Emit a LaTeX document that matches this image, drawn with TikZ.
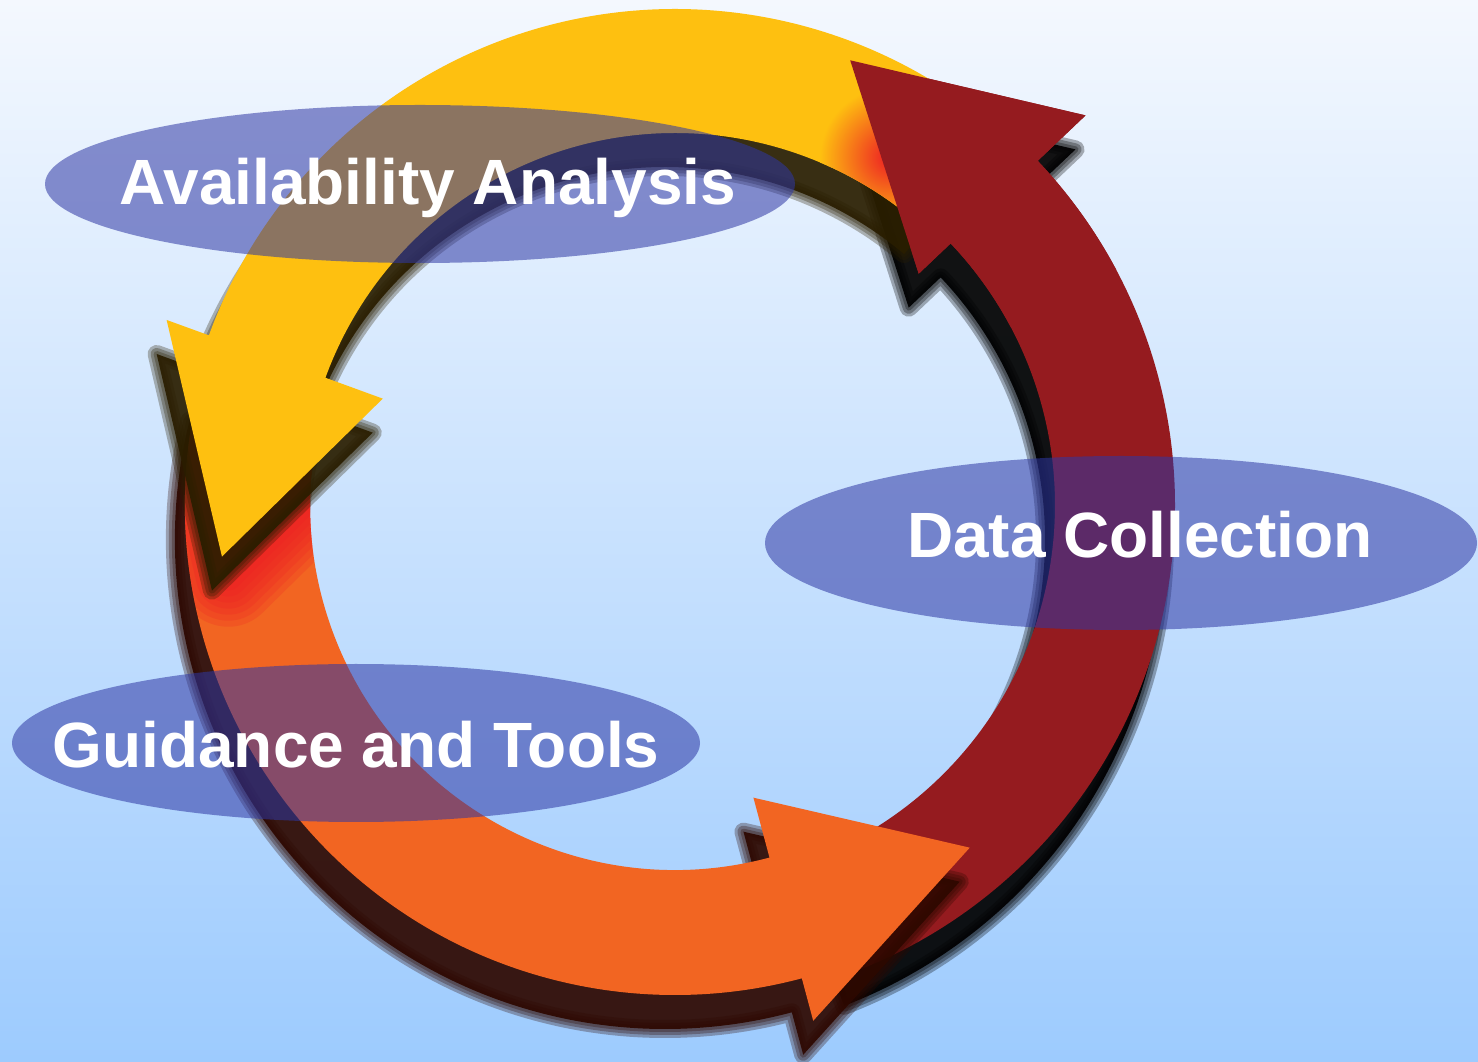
\documentclass[tikz,border=0pt]{standalone}
\usepackage{fontspec}
\setmainfont{Liberation Sans}
\usetikzlibrary{shapes.geometric}
\definecolor{bgtop}{HTML}{F4F8FE}
\definecolor{bgbot}{HTML}{9DCBFE}
\definecolor{arylw}{HTML}{FEC010}
\definecolor{arred}{HTML}{951B1F}
\definecolor{arorg}{HTML}{F26522}
\definecolor{glowred}{HTML}{ED1C24}
\definecolor{shY}{HTML}{2A1E00}
\definecolor{shO}{HTML}{2E0800}
\definecolor{shR}{HTML}{000000}
\definecolor{ellblue}{HTML}{2E37A4}
% #1 tail angle, #2 base angle, #3 tip angle, #4 inner r, #5 outer r, #6 inner barb r, #7 outer barb r, #8 tip r
\newcommand\arrowpath[8]{(#1:#5) arc[start angle=#1,end angle=#2,radius=#5] -- (#2:#7) -- (#3:#8) -- (#2:#6) -- (#2:#4) arc[start angle=#2,end angle=#1,radius=#4] -- cycle}
\newcommand\Ypath{\arrowpath{50}{160}{186.5}{372}{496}{311}{541}{456}}
\newcommand\Rpath{\arrowpath{-69}{43.5}{68.5}{380}{500}{336}{566}{478}}
\newcommand\Opath{\arrowpath{166}{285}{310.7}{365}{490}{303}{534}{452}}
\newcommand\RHpath{\arrowpath{28}{43.5}{68.5}{380}{500}{336}{566}{478}}
\newcommand\YHtri{(160:541) -- (186.5:456) -- (160:311) -- cycle}
\newcommand\softshadow[2]{%
  \begin{scope}[shift={(-10,-34)}]
    \fill[#1, opacity=0.92] #2;
    \foreach \w in {18,12,6}{\path[draw=#1, line width=\w pt, line join=round, opacity=0.3] #2;}
  \end{scope}}
\begin{document}
\begin{tikzpicture}[x=1pt,y=1pt,
  ell/.style={ellipse, fill=ellblue, fill opacity=0.55, draw=none, inner sep=0pt},
  lbl/.style={text=white, font=\bfseries\fontsize{64}{72}\selectfont, anchor=base, inner sep=0pt}]
\useasboundingbox (0,0) rectangle (1478,1061);
\shade[top color=bgtop, bottom color=bgbot] (0,0) rectangle (1478,1061);
\begin{scope}[shift={(675,556)}]
  % red arrow (right side)
  \softshadow{shR}{\Rpath}
  \fill[arred] \Rpath;
  % orange arrow (bottom)
  \softshadow{shO}{\Opath}
  \fill[arorg] \Opath;
  % red glow on the orange tail, below the yellow head
  \begin{scope}
    \clip \Opath;
    \begin{scope}[shift={(6,-20)}]
      \foreach \w in {100,88,76,64,52,40,28,16}{\path[fill=glowred, draw=glowred, line width=\w pt, line join=round, opacity=0.2] \YHtri;}
    \end{scope}
  \end{scope}
  % yellow arrow (top)
  \softshadow{shY}{\Ypath}
  \fill[arylw] \Ypath;
  % red glow on the yellow tail, beside the red head
  \begin{scope}
    \clip \Ypath;
    \shade[inner color=glowred, outer color=arylw] (215,348) circle (70);
  \end{scope}
  % red arrow head over the yellow tail
  \fill[arred] \RHpath;
\end{scope}
% ellipses
\node[ell, minimum width=750, minimum height=158] (e1) at (420,877) {};
\node[ell, minimum width=712, minimum height=174] (e2) at (1121,518) {};
\node[ell, minimum width=688, minimum height=158] (e3) at (356,318) {};
% labels
\node[lbl] (t1) at (428,856) {Availability Analysis};
\node[lbl] (t2) at (1140,503) {Data Collection};
\node[lbl] (t3) at (356,293) {Guidance and Tools};
\end{tikzpicture}
\end{document}
